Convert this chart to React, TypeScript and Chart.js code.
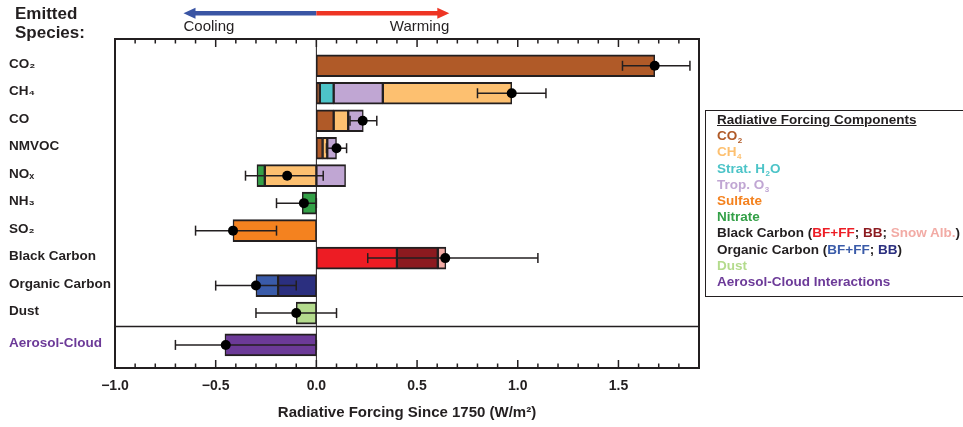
import React, { useEffect, useRef } from 'react';
import { Chart, registerables } from 'chart.js';

Chart.register(...registerables);

// ---------- data ----------
const speciesLabels = ['CO₂', 'CH₄', 'CO', 'NMVOC', 'NOₓ', 'NH₃', 'SO₂', 'Black Carbon', 'Organic Carbon', 'Dust', 'Aerosol-Cloud'];
const rowPositions = [0, 1, 2, 3, 4, 5, 6, 7, 8, 9, 10.16];
const separatorPosition = 9.49;

type Seg = [number, number] | null;
const co2Parts: Seg[] = [[0, 1.68], [0, 0.017], [0, 0.086], [0, 0.031], null, null, null, null, null, null, null];
const ch4Parts: Seg[] = [null, [0.33, 0.97], [0.086, 0.158], [0.031, 0.054], [-0.256, 0], null, null, null, null, null, null];
const stratH2OParts: Seg[] = [null, [0.017, 0.086], null, null, null, null, null, null, null, null, null];
const tropO3Parts: Seg[] = [null, [0.086, 0.33], [0.158, 0.233], [0.054, 0.10], [0, 0.145], null, null, null, null, null, null];
const sulfateParts: Seg[] = [null, null, null, null, null, null, [-0.414, 0], null, null, null, null];
const nitrateParts: Seg[] = [null, null, null, null, [-0.295, -0.256], [-0.07, 0], null, null, null, null, null];
const bcFossilParts: Seg[] = [null, null, null, null, null, null, null, [0, 0.40], null, null, null];
const bcBurningParts: Seg[] = [null, null, null, null, null, null, null, [0.40, 0.603], null, null, null];
const bcSnowParts: Seg[] = [null, null, null, null, null, null, null, [0.603, 0.643], null, null, null];
const ocFossilParts: Seg[] = [null, null, null, null, null, null, null, null, [-0.30, -0.19], null, null];
const ocBurningParts: Seg[] = [null, null, null, null, null, null, null, null, [-0.19, 0], null, null];
const dustParts: Seg[] = [null, null, null, null, null, null, null, null, null, [-0.10, 0], null];
const aciParts: Seg[] = [null, null, null, null, null, null, null, null, null, null, [-0.454, 0]];

const bestEstimates = [1.68, 0.97, 0.23, 0.10, -0.145, -0.062, -0.414, 0.64, -0.30, -0.10, -0.45];
const lowerBounds = [1.52, 0.80, 0.167, 0.05, -0.352, -0.198, -0.60, 0.255, -0.50, -0.30, -0.70];
const upperBounds = [1.855, 1.14, 0.30, 0.15, 0.034, 0.0, -0.198, 1.10, -0.10, 0.10, 0.0];

const xTickValues = [-1.0, -0.5, 0, 0.5, 1.0, 1.5];

// ---------- styles ----------
const C = {
  co2: '#B05A28', ch4: '#FDC070', h2o: '#4DC4C8', o3: '#C0A6D3', sulfate: '#F4821F', nitrate: '#33A047',
  bcFF: '#ED1C24', bcBB: '#8C1A1F', bcSnow: '#F2ABA5', ocFF: '#3A5BA9', ocBB: '#2B2F7F', dust: '#B4DB8D', aci: '#6C3A98',
  ink: '#231F20', arrowBlue: '#3A55A4', arrowRed: '#EE3524',
};
const FONT = '"Liberation Sans", Arial, Helvetica, sans-serif';

const components: { parts: Seg[]; color: string }[] = [
  { parts: co2Parts, color: C.co2 },
  { parts: ch4Parts, color: C.ch4 },
  { parts: stratH2OParts, color: C.h2o },
  { parts: tropO3Parts, color: C.o3 },
  { parts: sulfateParts, color: C.sulfate },
  { parts: nitrateParts, color: C.nitrate },
  { parts: bcFossilParts, color: C.bcFF },
  { parts: bcBurningParts, color: C.bcBB },
  { parts: bcSnowParts, color: C.bcSnow },
  { parts: ocFossilParts, color: C.ocFF },
  { parts: ocBurningParts, color: C.ocBB },
  { parts: dustParts, color: C.dust },
  { parts: aciParts, color: C.aci },
];

const decorPlugin = {
  id: 'decor',
  beforeDatasetsDraw(chart: any) {
    const { ctx, chartArea: a, scales } = chart;
    const x0 = scales.x.getPixelForValue(0);
    ctx.save();
    ctx.strokeStyle = C.ink;
    ctx.lineWidth = 1;
    ctx.beginPath();
    ctx.moveTo(x0, a.top);
    ctx.lineTo(x0, a.bottom);
    ctx.stroke();
    ctx.restore();
  },
  afterDatasetsDraw(chart: any) {
    const { ctx, chartArea: a, scales } = chart;
    ctx.save();
    ctx.strokeStyle = C.ink;
    // separator
    const ys = scales.y.getPixelForValue(separatorPosition);
    ctx.lineWidth = 1.5;
    ctx.beginPath();
    ctx.moveTo(a.left, ys);
    ctx.lineTo(a.right, ys);
    ctx.stroke();
    // inward ticks
    for (let k = -10; k <= 19; k++) {
      const px = scales.x.getPixelForValue(k / 10);
      const len = k % 5 === 0 ? 8 : 4.5;
      ctx.beginPath();
      ctx.moveTo(px, a.top);
      ctx.lineTo(px, a.top + len);
      ctx.moveTo(px, a.bottom);
      ctx.lineTo(px, a.bottom - len);
      ctx.stroke();
    }
    // frame
    ctx.lineWidth = 2;
    ctx.strokeRect(a.left, a.top, a.right - a.left, a.bottom - a.top);
    ctx.restore();
  },
  afterDraw(chart: any) {
    const { ctx, scales } = chart;
    const xs = scales.x;
    const xl = xs.getPixelForValue(-0.66);
    const x0 = xs.getPixelForValue(0);
    const xr = xs.getPixelForValue(0.66);
    const y = 13.3;
    ctx.save();
    ctx.lineWidth = 4.5;
    ctx.strokeStyle = C.arrowBlue;
    ctx.beginPath();
    ctx.moveTo(xl + 8, y);
    ctx.lineTo(x0, y);
    ctx.stroke();
    ctx.fillStyle = C.arrowBlue;
    ctx.beginPath();
    ctx.moveTo(xl, y);
    ctx.lineTo(xl + 12, y - 5.5);
    ctx.lineTo(xl + 12, y + 5.5);
    ctx.closePath();
    ctx.fill();
    ctx.strokeStyle = C.arrowRed;
    ctx.beginPath();
    ctx.moveTo(x0, y);
    ctx.lineTo(xr - 8, y);
    ctx.stroke();
    ctx.fillStyle = C.arrowRed;
    ctx.beginPath();
    ctx.moveTo(xr, y);
    ctx.lineTo(xr - 12, y - 5.5);
    ctx.lineTo(xr - 12, y + 5.5);
    ctx.closePath();
    ctx.fill();
    ctx.fillStyle = C.ink;
    ctx.font = `15px ${FONT}`;
    ctx.textBaseline = 'middle';
    ctx.textAlign = 'left';
    ctx.fillText('Cooling', xl, 27);
    ctx.textAlign = 'right';
    ctx.fillText('Warming', xr, 27);
    ctx.restore();
  },
};

const Sub = ({ children }: { children: React.ReactNode }) => (
  <span style={{ fontSize: '8px', lineHeight: 0, position: 'relative', top: '3px', marginLeft: '0.5px' }}>{children}</span>
);

export default function App() {
  const ref = useRef<HTMLCanvasElement | null>(null);

  useEffect(() => {
    if (!ref.current) return;
    const barSets = components.map((c) => ({
      type: 'bar' as const,
      indexAxis: 'y' as const,
      grouped: false,
      barThickness: 22,
      backgroundColor: c.color,
      borderColor: C.ink,
      borderWidth: { top: 2, bottom: 2, left: 1.5, right: 1.5 },
      borderSkipped: false,
      order: 3,
      data: c.parts
        .map((p, i) => (p ? { x: p, y: rowPositions[i] } : null))
        .filter((d) => d !== null),
    }));
    const errSets = rowPositions.map((pos, i) => ({
      type: 'scatter' as const,
      showLine: true,
      borderColor: C.ink,
      borderWidth: 1.5,
      pointStyle: 'line',
      pointRotation: 90,
      pointRadius: 5,
      pointBorderWidth: 1.5,
      pointBorderColor: C.ink,
      order: 2,
      data: [
        { x: lowerBounds[i], y: pos },
        { x: upperBounds[i], y: pos },
      ],
    }));
    const dotSet = {
      type: 'scatter' as const,
      pointRadius: 5,
      pointBackgroundColor: '#000',
      pointBorderWidth: 0,
      order: 1,
      data: bestEstimates.map((v, i) => ({ x: v, y: rowPositions[i] })),
    };

    const chart = new Chart(ref.current, {
      type: 'bar',
      data: { datasets: [dotSet, ...errSets, ...barSets] as any },
      options: {
        responsive: false,
        animation: false,
        events: [],
        layout: { padding: { left: 9, right: 264, top: 39, bottom: 0 } },
        plugins: { legend: { display: false }, tooltip: { enabled: false } },
        scales: {
          x: {
            type: 'linear',
            position: 'bottom',
            min: -1,
            max: 1.9,
            offset: false,
            grid: { display: false, drawTicks: false },
            border: { display: false },
            afterBuildTicks: (s: any) => {
              s.ticks = xTickValues.map((v) => ({ value: v }));
            },
            afterFit: (s: any) => {
              s.height = 59;
            },
            ticks: {
              padding: 10,
              color: C.ink,
              font: { family: FONT, size: 14, weight: 'bold' },
              callback: (v: any) => {
                const n = Number(v);
                return (n < 0 ? '\u2212' : '') + Math.abs(n).toFixed(1);
              },
            },
            title: {
              display: true,
              text: 'Radiative Forcing Since 1750 (W/m²)',
              color: C.ink,
              font: { family: FONT, size: 15, weight: 'bold' },
              padding: { top: 0, bottom: 5 },
            },
          },
          y: {
            type: 'linear',
            reverse: true,
            min: -0.975,
            max: 11.0,
            offset: false,
            grid: { display: false, drawTicks: false },
            border: { display: false },
            afterBuildTicks: (s: any) => {
              s.ticks = rowPositions.map((v) => ({ value: v }));
            },
            afterFit: (s: any) => {
              s.width = 106;
            },
            ticks: {
              autoSkip: false,
              crossAlign: 'far',
              padding: 0,
              labelOffset: -1.5,
              color: (ctx: any) => (ctx.index === speciesLabels.length - 1 ? C.aci : C.ink),
              font: { family: FONT, size: 13.5, weight: 'bold' },
              callback: (_v: any, i: number) => speciesLabels[i],
            },
          },
        },
      } as any,
      plugins: [decorPlugin],
    });
    return () => chart.destroy();
  }, []);

  const legendRow = { whiteSpace: 'nowrap' as const, height: '16.2px' };

  return (
    <div style={{ position: 'fixed', left: 0, top: 0, width: 963, height: 427, background: '#fff', overflow: 'hidden' }}>
      <canvas ref={ref} width={963} height={427} style={{ position: 'absolute', left: 0, top: 0, width: 963, height: 427 }} />
      <div
        style={{
          position: 'absolute', left: 15, top: 4, font: `bold 17px/19px ${FONT}`, color: C.ink,
        }}
      >
        <div>Emitted</div>
        <div>Species:</div>
      </div>
      <div
        style={{
          position: 'absolute', left: 705, top: 110, width: 280, height: 187, boxSizing: 'border-box',
          border: `1.5px solid ${C.ink}`, padding: '1px 0 0 11px', font: `bold 13.5px/16.2px ${FONT}`, color: C.ink,
        }}
      >
        <div style={{ ...legendRow, textDecoration: 'underline' }}>Radiative Forcing Components</div>
        <div style={{ ...legendRow, color: C.co2 }}>CO<Sub>2</Sub></div>
        <div style={{ ...legendRow, color: C.ch4 }}>CH<Sub>4</Sub></div>
        <div style={{ ...legendRow, color: C.h2o }}>Strat. H<Sub>2</Sub>O</div>
        <div style={{ ...legendRow, color: C.o3 }}>Trop. O<Sub>3</Sub></div>
        <div style={{ ...legendRow, color: C.sulfate }}>Sulfate</div>
        <div style={{ ...legendRow, color: C.nitrate }}>Nitrate</div>
        <div style={legendRow}>
          Black Carbon (<span style={{ color: C.bcFF }}>BF+FF</span>; <span style={{ color: C.bcBB }}>BB</span>;{' '}
          <span style={{ color: C.bcSnow }}>Snow Alb.</span>)
        </div>
        <div style={legendRow}>
          Organic Carbon (<span style={{ color: C.ocFF }}>BF+FF</span>; <span style={{ color: C.ocBB }}>BB</span>)
        </div>
        <div style={{ ...legendRow, color: C.dust }}>Dust</div>
        <div style={{ ...legendRow, color: C.aci }}>Aerosol-Cloud Interactions</div>
      </div>
    </div>
  );
}
